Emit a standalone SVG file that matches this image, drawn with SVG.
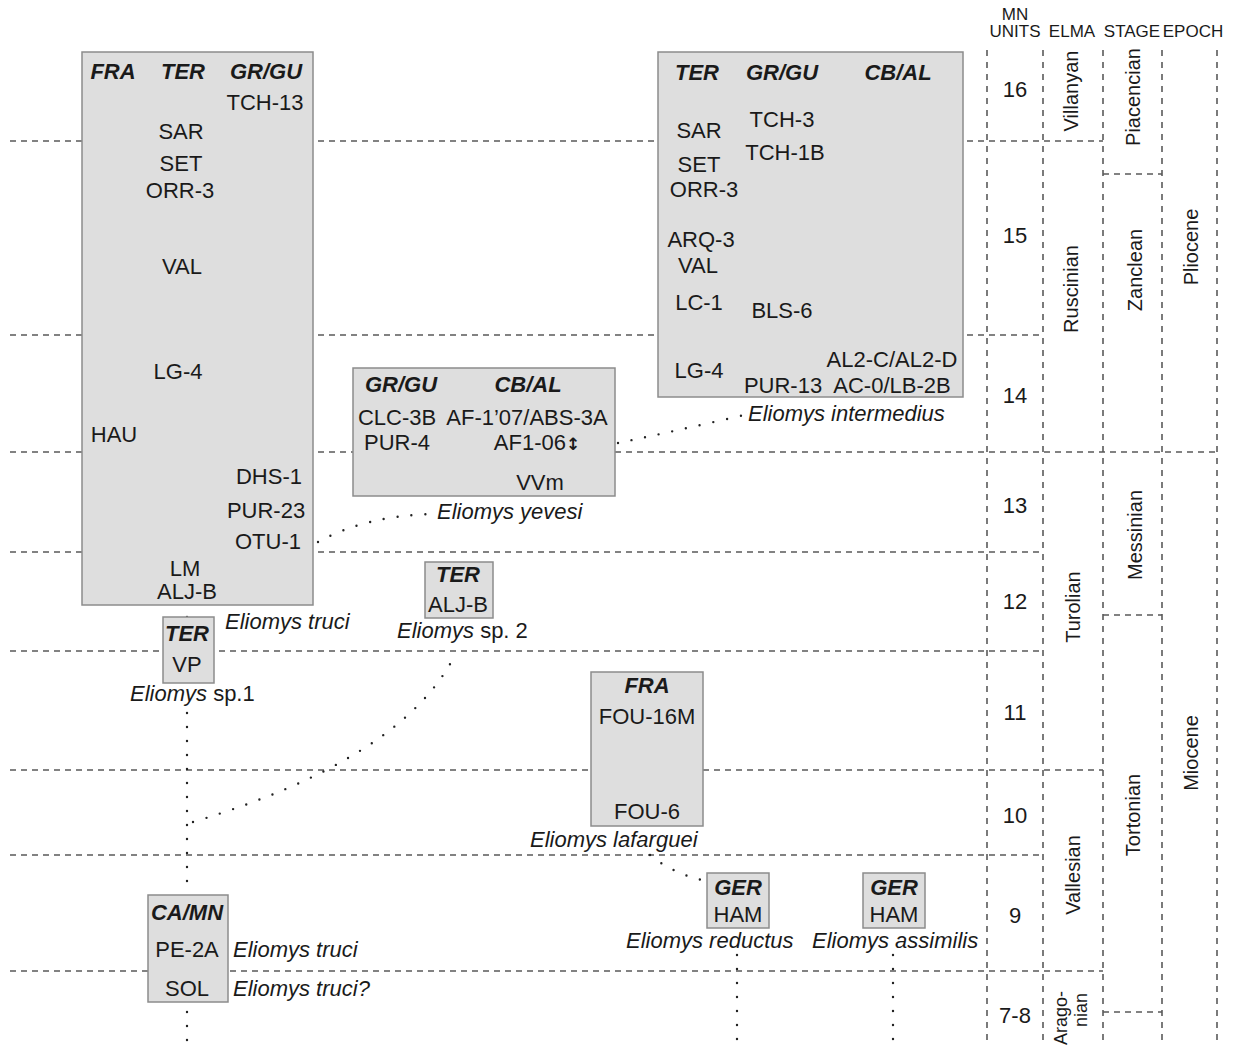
<svg xmlns="http://www.w3.org/2000/svg" width="1238" height="1050" viewBox="0 0 1238 1050">
<style>
.box{fill:#dedede;stroke:#8c8c8c;stroke-width:1.5}
text{font-family:"Liberation Sans",Arial,Helvetica,sans-serif;fill:#1a1a1a}
.t{font-size:22px;text-anchor:middle}
.h{font-weight:bold;font-style:italic}
.sp{font-size:22px;font-style:italic;text-anchor:start}
.hd{font-size:17px;text-anchor:middle}
.mn{font-size:22px;text-anchor:middle}
.rot{font-size:20px;text-anchor:middle}
.grid{stroke:#5a5a5a;stroke-width:1.6;stroke-dasharray:6 5;fill:none}
.vg{stroke:#5a5a5a;stroke-width:1.6;stroke-dasharray:6 6;fill:none}
.dot{stroke:#222;stroke-width:2.4;stroke-linecap:round;stroke-dasharray:0 14;fill:none}
</style>
<rect width="1238" height="1050" fill="#fff"/>
<g id="timescale">
<path class="grid" d="M10 141H1103M10 335H1043M10 452H1217M10 552H1043M10 651H1043M10 770H1103M10 855H1043M10 971H1103M1103 174H1162M1103 615H1162M1103 1012H1162"/>
<path class="vg" d="M987 50V1045M1043 50V1045M1103 50V1045M1162 50V1045M1217 50V1045"/>
<text class="hd" x="1015" y="20">MN</text>
<text class="hd" x="1015" y="37">UNITS</text>
<text class="hd" x="1072" y="37">ELMA</text>
<text class="hd" x="1132" y="37">STAGE</text>
<text class="hd" x="1193" y="37">EPOCH</text>
<text class="mn" x="1015" y="97">16</text>
<text class="mn" x="1015" y="243">15</text>
<text class="mn" x="1015" y="403">14</text>
<text class="mn" x="1015" y="513">13</text>
<text class="mn" x="1015" y="609">12</text>
<text class="mn" x="1015" y="720">11</text>
<text class="mn" x="1015" y="823">10</text>
<text class="mn" x="1015" y="923">9</text>
<text class="mn" x="1015" y="1023">7-8</text>
<text class="rot" x="1078" y="91" transform="rotate(-90 1078 91)">Villanyan</text>
<text class="rot" x="1078" y="289" transform="rotate(-90 1078 289)">Ruscinian</text>
<text class="rot" x="1080" y="607" transform="rotate(-90 1080 607)">Turolian</text>
<text class="rot" x="1080" y="875" transform="rotate(-90 1080 875)">Vallesian</text>
<text class="rot" x="1067" y="991" style="text-anchor:end;font-size:18px" transform="rotate(-90 1067 991)">Arago-</text>
<text class="rot" x="1087" y="993" style="text-anchor:end;font-size:18px" transform="rotate(-90 1087 993)">nian</text>
<text class="rot" x="1140" y="97" transform="rotate(-90 1140 97)">Piacencian</text>
<text class="rot" x="1142" y="270" transform="rotate(-90 1142 270)">Zanclean</text>
<text class="rot" x="1142" y="535" transform="rotate(-90 1142 535)">Messinian</text>
<text class="rot" x="1140" y="815" transform="rotate(-90 1140 815)">Tortonian</text>
<text class="rot" x="1198" y="247" transform="rotate(-90 1198 247)">Pliocene</text>
<text class="rot" x="1198" y="753" transform="rotate(-90 1198 753)">Miocene</text>
</g>
<g id="connectors">
<path class="dot" d="M187 617V618"/>
<path class="dot" d="M187 713V890"/>
<path class="dot" d="M187 1012V1045"/>
<path class="dot" d="M193 822Q400 760 454 657"/>
<path class="dot" d="M318 542Q365 516 432 514"/>
<path class="dot" d="M618 443Q680 430 744 415"/>
<path class="dot" d="M650 855Q672 873 702 880"/>
<path class="dot" d="M737 955V1045"/>
<path class="dot" d="M893 955V1045"/>
</g>
<g id="node-truci-main">
<rect class="box" x="82" y="52" width="231" height="553"/>
<text class="t h" x="113" y="79">FRA</text>
<text class="t h" x="183" y="79">TER</text>
<text class="t h" x="266" y="79">GR/GU</text>
<text class="t" x="265" y="110">TCH-13</text>
<text class="t" x="181" y="139">SAR</text>
<text class="t" x="181" y="171">SET</text>
<text class="t" x="180" y="198">ORR-3</text>
<text class="t" x="182" y="274">VAL</text>
<text class="t" x="178" y="379">LG-4</text>
<text class="t" x="114" y="442">HAU</text>
<text class="t" x="269" y="484">DHS-1</text>
<text class="t" x="266" y="518">PUR-23</text>
<text class="t" x="268" y="549">OTU-1</text>
<text class="t" x="185" y="576">LM</text>
<text class="t" x="187" y="599">ALJ-B</text>
<text class="sp" x="225" y="629">Eliomys truci</text>
</g>
<g id="node-sp1">
<rect class="box" x="163" y="617" width="51" height="66"/>
<text class="t h" x="187" y="641">TER</text>
<text class="t" x="187" y="672">VP</text>
<text class="sp" x="130" y="701">Eliomys <tspan style="font-style:normal">sp.1</tspan></text>
</g>
<g id="node-sp2">
<rect class="box" x="425" y="562" width="68" height="56"/>
<text class="t h" x="458" y="582">TER</text>
<text class="t" x="458" y="612">ALJ-B</text>
<text class="sp" x="397" y="638">Eliomys <tspan style="font-style:normal">sp. 2</tspan></text>
</g>
<g id="node-yevesi">
<rect class="box" x="353" y="368" width="262" height="128"/>
<text class="t h" x="401" y="392">GR/GU</text>
<text class="t h" x="528" y="392">CB/AL</text>
<text class="t" x="397" y="425">CLC-3B</text>
<text class="t" x="527" y="425">AF-1’07/ABS-3A</text>
<text class="t" x="397" y="450">PUR-4</text>
<text class="t" x="537" y="450">AF1-06<tspan style="font-size:17px;font-weight:bold;font-family:'DejaVu Sans',sans-serif">↕</tspan></text>
<text class="t" x="540" y="490">VVm</text>
<text class="sp" x="437" y="519">Eliomys yevesi</text>
</g>
<g id="node-intermedius">
<rect class="box" x="658" y="52" width="305" height="345"/>
<text class="t h" x="697" y="80">TER</text>
<text class="t h" x="782" y="80">GR/GU</text>
<text class="t h" x="898" y="80">CB/AL</text>
<text class="t" x="782" y="127">TCH-3</text>
<text class="t" x="699" y="138">SAR</text>
<text class="t" x="785" y="160">TCH-1B</text>
<text class="t" x="699" y="172">SET</text>
<text class="t" x="704" y="197">ORR-3</text>
<text class="t" x="701" y="247">ARQ-3</text>
<text class="t" x="698" y="273">VAL</text>
<text class="t" x="699" y="310">LC-1</text>
<text class="t" x="782" y="318">BLS-6</text>
<text class="t" x="892" y="367">AL2-C/AL2-D</text>
<text class="t" x="699" y="378">LG-4</text>
<text class="t" x="783" y="393">PUR-13</text>
<text class="t" x="892" y="393">AC-0/LB-2B</text>
<text class="sp" x="748" y="421">Eliomys intermedius</text>
</g>
<g id="node-lafarguei">
<rect class="box" x="591" y="672" width="112" height="154"/>
<text class="t h" x="647" y="693">FRA</text>
<text class="t" x="647" y="724">FOU-16M</text>
<text class="t" x="647" y="819">FOU-6</text>
<text class="sp" x="530" y="847">Eliomys lafarguei</text>
</g>
<g id="node-reductus">
<rect class="box" x="707" y="873" width="62" height="55"/>
<text class="t h" x="738" y="895">GER</text>
<text class="t" x="738" y="922">HAM</text>
<text class="sp" x="626" y="948">Eliomys reductus</text>
</g>
<g id="node-assimilis">
<rect class="box" x="863" y="873" width="62" height="55"/>
<text class="t h" x="894" y="895">GER</text>
<text class="t" x="894" y="922">HAM</text>
<text class="sp" x="812" y="948">Eliomys assimilis</text>
</g>
<g id="node-truci-camn">
<rect class="box" x="148" y="895" width="80" height="107"/>
<text class="t h" x="187" y="920">CA/MN</text>
<text class="t" x="187" y="957">PE-2A</text>
<text class="t" x="187" y="996">SOL</text>
<text class="sp" x="233" y="957">Eliomys truci</text>
<text class="sp" x="233" y="996">Eliomys truci?</text>
</g>
</svg>
